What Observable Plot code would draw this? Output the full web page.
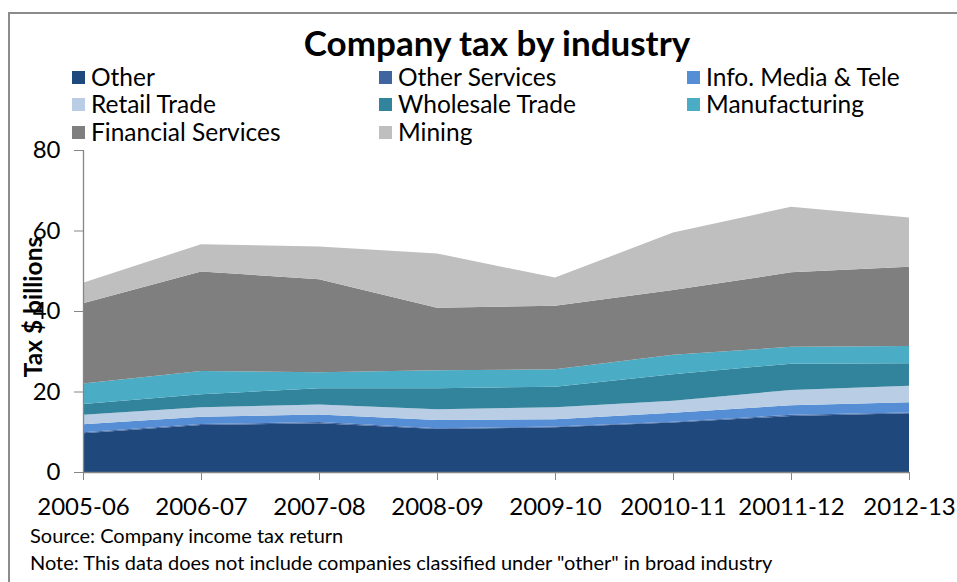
<!DOCTYPE html>
<html><head><meta charset="utf-8">
<script src="https://cdn.jsdelivr.net/npm/d3@7"></script>
<script src="https://cdn.jsdelivr.net/npm/@observablehq/plot@0.6"></script>
<style>
body{margin:0;background:#fff;}
#wrap{position:relative;width:957px;height:582px;overflow:hidden;font-family:Lato,"Open Sans",sans-serif;background:#fff;color:#000;}
#frame{position:absolute;left:8px;top:12px;width:1000px;height:700px;border-top:2px solid #8c8c8c;border-left:2px solid #8c8c8c;}
#title{position:absolute;top:30px;left:0;width:994px;text-align:center;font-weight:bold;font-size:35px;line-height:24px;}
.leg{position:absolute;font-size:24.5px;line-height:26px;white-space:nowrap;}
.sw{display:inline-block;width:13px;height:13px;margin-right:6px;vertical-align:middle;position:relative;top:-2px;}
#chart{position:absolute;left:0;top:140px;}
#ytitle{position:absolute;left:33px;top:307px;transform:translate(-50%,-50%) rotate(-90deg);font-weight:bold;font-size:24.5px;line-height:26px;white-space:nowrap;}
.cap{position:absolute;left:30px;font-size:20px;line-height:22px;white-space:nowrap;}
</style></head>
<body><div id="wrap">
<div id="frame"></div>
<div id="chart"></div>
<div id="title">Company tax by industry</div>
<div id="ytitle">Tax $ billions</div>
<div class="cap" style="top:524px">Source: Company income tax return</div>
<div class="cap" style="top:551px">Note: This data does not include companies classified under "other" in broad industry</div>
</div>
<script>
const years = ["2005-06","2006-07","2007-08","2008-09","2009-10","20010-11","20011-12","2012-13"];
const industries = ["Other","Other Services","Info. Media & Tele","Retail Trade","Wholesale Trade","Manufacturing","Financial Services","Mining"];
const colors = ["#1F497D","#3F64A0","#558ED5","#B9CDE5","#31849B","#4BACC6","#7F7F7F","#BFBFBF"];
const other        = [9.6, 11.7, 12.1, 10.7, 11.1, 12.3, 13.9, 14.6];
const otherServ    = [0.3, 0.2, 0.3, 0.2, 0.2, 0.2, 0.3, 0.2];
const infoMedia    = [1.95, 1.8, 1.9, 2.0, 1.8, 2.2, 2.4, 2.5];
const retail       = [2.35, 2.4, 2.5, 2.7, 3.0, 3.0, 3.8, 4.1];
const wholesale    = [2.7, 3.2, 4.0, 5.2, 5.1, 6.6, 6.5, 5.6];
const manufacturing= [5.1, 5.8, 4.0, 4.5, 4.3, 4.8, 4.2, 4.3];
const financial    = [19.9, 24.7, 23.1, 15.5, 15.8, 16.1, 18.5, 19.7];
const mining       = [5.1, 6.8, 8.1, 13.5, 7.0, 14.3, 16.3, 12.2];
const yTicks = [0, 20, 40, 60, 80];

const seriesValues = [other, otherServ, infoMedia, retail, wholesale, manufacturing, financial, mining];
const data = [];
industries.forEach((ind, i) => years.forEach((yr, j) => data.push({year: yr, industry: ind, value: seriesValues[i][j]})));

const chart = Plot.plot({
  width: 957, height: 380,
  marginTop: 10, marginLeft: 83, marginRight: 48, marginBottom: 48,
  style: {fontFamily: "Lato, 'Open Sans', sans-serif", fontSize: "24px", color: "#000", background: "transparent", overflow: "visible"},
  x: {type: "point", domain: years, padding: 0, label: null},
  y: {domain: [0, 80], label: null},
  color: {domain: industries, range: colors},
  marks: [
    Plot.areaY(data, {x: "year", y: "value", fill: "industry"}),
    Plot.ruleY([0], {stroke: "#868686", strokeWidth: 1.3}),
    Plot.ruleX([years[0]], {stroke: "#868686", strokeWidth: 1.3}),
    Plot.axisX({tickSize: 8, tickPadding: 17, stroke: "#868686", fill: "#000", label: null}),
    Plot.axisY({ticks: yTicks, tickSize: 9, tickPadding: 14, stroke: "#868686", fill: "#000", label: null})
  ]
});
document.getElementById("chart").appendChild(chart);

// legend
const legPos = [[72,64],[379,64],[687,64],[72,91],[379,91],[687,91],[72,119],[379,119]];
const wrap = document.getElementById("wrap");
industries.forEach((ind, i) => {
  const d = document.createElement("div");
  d.className = "leg";
  d.style.left = legPos[i][0] + "px";
  d.style.top = legPos[i][1] + "px";
  d.innerHTML = `<span class="sw" style="background:${colors[i]}"></span>`;
  d.appendChild(document.createTextNode(ind));
  wrap.appendChild(d);
});
</script>
</body></html>
